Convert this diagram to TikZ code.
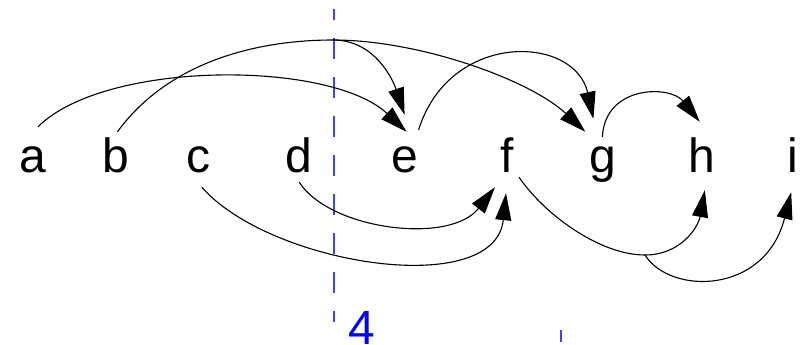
\documentclass[tikz,border=0pt]{standalone}
\usepackage{fontspec}
\setmainfont{Liberation Sans}
\usetikzlibrary{arrows.meta, positioning}
\definecolor{markblue}{RGB}{64,64,255}

\begin{document}
\begin{tikzpicture}[
    x=1pt, y=-1pt,
    token/.style={font=\fontsize{48}{48}\selectfont, inner sep=0pt, minimum width=30pt, text height=35pt, text depth=10pt},
    dep/.style={-{Triangle[length=27pt, width=16pt]}, line width=1.1pt},
    cursor/.style={draw=markblue, line width=1.4pt}
]
\useasboundingbox (0,0) rectangle (805,345);

% Nodes
\node[token, anchor=base] (a) at (33,172) {a};
\node[token, right=52pt of a] (b) {b};
\node[token, right=53pt of b] (c) {c};
\node[token, right=70pt of c] (d) {d};
\node[token, right=75pt of d] (e) {e};
\node[token, right=72pt of e] (f) {f};
\node[token, right=65pt of f] (g) {g};
\node[token, right=69pt of g] (h) {h};
\node[token, right=61pt of h] (i) {i};
\coordinate (top) at (333,40);
\coordinate (fork) at (645,255);

% Cursor
\draw[cursor, dash pattern=on 21pt off 18pt, dash phase=10pt] (334,9) -- (334,322);
\node[font=\fontsize{48}{48}\selectfont, text=blue, inner sep=0pt, anchor=base west] (pos) at (348,344) {4};
\draw[cursor] (561,330) -- (561,342);

% Edges
\draw[dep] ([shift={(5pt,10pt)}]a.north) .. controls (105,60) and (330,60) .. ([shift={(2pt,5pt)}]e.north);
\draw[dep] ([shift={(2pt,5pt)}]b.north) .. controls (170,60) and (260,40) .. (top)
    .. controls (420,40) and (530,80) .. ([shift={(-17pt,5pt)}]g.north);
\draw[dep] (top) .. controls (375,40) and (393,80) .. ([yshift=22pt]e.north);
\draw[dep] ([shift={(14pt,7pt)}]e.north) .. controls (450,30) and (575,35) .. ([shift={(-9pt,18pt)}]g.north);
\draw[dep] (g.north) .. controls (605,85) and (670,85) .. ([shift={(-2pt,15pt)}]h.north);
\draw[dep] (d.south) .. controls (330,230) and (450,245) .. ([shift={(-12pt,-5pt)}]f.south);
\draw[dep] ([shift={(3pt,-5pt)}]c.south) .. controls (270,265) and (495,300) .. ([shift={(-1pt,-11pt)}]f.south);
\draw[dep] ([shift={(12pt,5pt)}]f.south) .. controls (545,215) and (600,255) .. (fork)
    .. controls (680,255) and (698,228) .. ([shift={(3pt,-8pt)}]h.south);
\draw[dep] (fork) .. controls (670,295) and (765,295) .. ([shift={(-2pt,-10pt)}]i.south);

\end{tikzpicture}
\end{document}
